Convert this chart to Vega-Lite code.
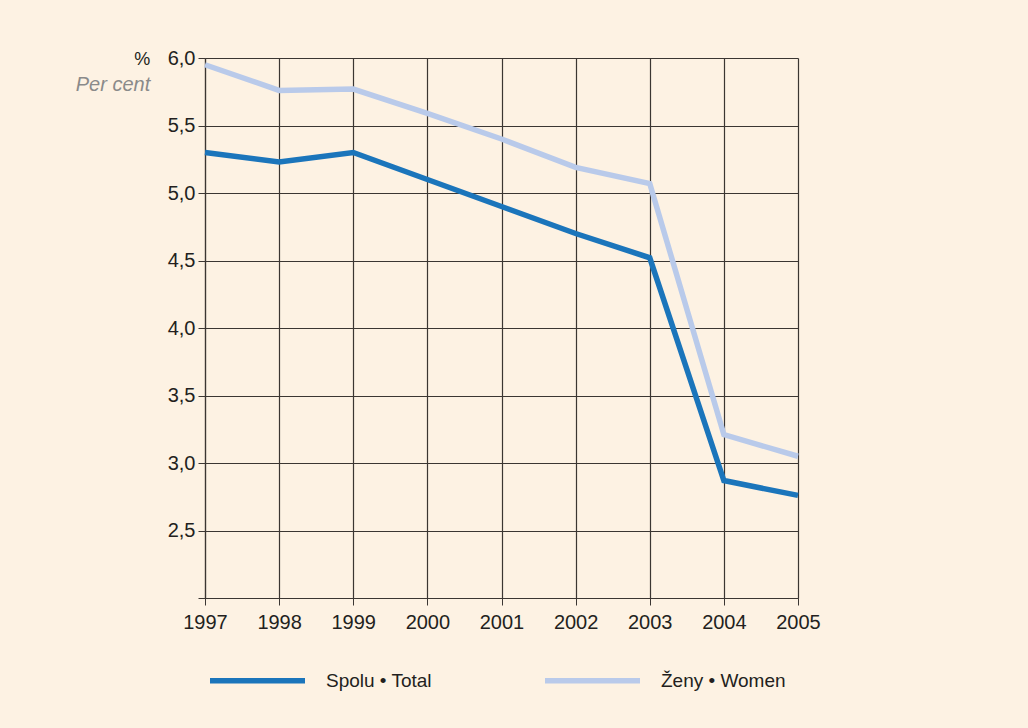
{
  "$schema": "https://vega.github.io/schema/vega-lite/v6.json",
  "autosize": "none",
  "width": 593,
  "height": 540,
  "padding": {"left": 205, "top": 58, "right": 230, "bottom": 130},
  "background": "#fdf2e3",
  "title": {
    "text": "%",
    "subtitle": "Per cent",
    "anchor": "start",
    "align": "right",
    "dx": -17,
    "offset": -47,
    "font": "Liberation Sans",
    "fontSize": 18,
    "fontWeight": "normal",
    "color": "#231f20",
    "subtitleFont": "Liberation Sans",
    "subtitleFontSize": 20,
    "subtitleFontStyle": "italic",
    "subtitleColor": "#8a8a8a",
    "subtitlePadding": 6
  },
  "data": {
    "values": [
      {"year": 1997, "series": "Spolu", "value": 5.30},
      {"year": 1998, "series": "Spolu", "value": 5.23},
      {"year": 1999, "series": "Spolu", "value": 5.30},
      {"year": 2000, "series": "Spolu", "value": 5.10},
      {"year": 2001, "series": "Spolu", "value": 4.90},
      {"year": 2002, "series": "Spolu", "value": 4.70},
      {"year": 2003, "series": "Spolu", "value": 4.52},
      {"year": 2004, "series": "Spolu", "value": 2.87},
      {"year": 2005, "series": "Spolu", "value": 2.76},
      {"year": 1997, "series": "Ženy", "value": 5.95},
      {"year": 1998, "series": "Ženy", "value": 5.76},
      {"year": 1999, "series": "Ženy", "value": 5.77},
      {"year": 2000, "series": "Ženy", "value": 5.59},
      {"year": 2001, "series": "Ženy", "value": 5.40},
      {"year": 2002, "series": "Ženy", "value": 5.19},
      {"year": 2003, "series": "Ženy", "value": 5.07},
      {"year": 2004, "series": "Ženy", "value": 3.21},
      {"year": 2005, "series": "Ženy", "value": 3.05}
    ]
  },
  "mark": {"type": "line", "strokeWidth": 5.5, "strokeCap": "butt", "strokeJoin": "miter", "clip": false},
  "encoding": {
    "x": {
      "field": "year",
      "type": "quantitative",
      "scale": {"domain": [1997, 2005], "nice": false, "zero": false},
      "axis": {
        "title": null,
        "values": [1997, 1998, 1999, 2000, 2001, 2002, 2003, 2004, 2005],
        "format": "d",
        "labelFlush": false,
        "labelBound": false,
        "labelOverlap": false,
        "grid": true,
        "gridColor": "#3b3632",
        "gridOpacity": 1,
        "gridWidth": 1.2,
        "domainColor": "#3b3632",
        "domainWidth": 1.2,
        "tickColor": "#3b3632",
        "tickSize": 7,
        "labelFont": "Liberation Sans",
        "labelFontSize": 20,
        "labelColor": "#231f20",
        "labelPadding": 7
      }
    },
    "y": {
      "field": "value",
      "type": "quantitative",
      "scale": {"domain": [2, 6], "nice": false, "zero": false},
      "axis": {
        "title": null,
        "values": [2, 2.5, 3, 3.5, 4, 4.5, 5, 5.5, 6],
        "labelExpr": "datum.value == 2 ? '' : replace(format(datum.value, '.1f'), '.', ',')",
        "labelOverlap": false,
        "labelFlush": false,
        "grid": true,
        "gridColor": "#3b3632",
        "gridOpacity": 1,
        "gridWidth": 1.2,
        "domainColor": "#3b3632",
        "domainWidth": 1.2,
        "tickColor": "#3b3632",
        "tickSize": 7,
        "labelFont": "Liberation Sans",
        "labelFontSize": 20,
        "labelColor": "#231f20",
        "labelPadding": 3
      }
    },
    "color": {
      "field": "series",
      "type": "nominal",
      "scale": {"domain": ["Spolu", "Ženy"], "range": ["#1b75bb", "#b9caea"]},
      "legend": {
        "title": null,
        "orient": "none",
        "legendX": 2,
        "legendY": 572,
        "direction": "horizontal",
        "columns": 2,
        "columnPadding": 102,
        "symbolType": "stroke",
        "symbolSize": 9025,
        "symbolStrokeWidth": 5.5,
        "labelOffset": 18,
        "labelFont": "Liberation Sans",
        "labelFontSize": 19,
        "labelColor": "#231f20",
        "labelLimit": 300,
        "labelExpr": "datum.label == 'Spolu' ? 'Spolu • Total' : 'Ženy • Women'"
      }
    }
  },
  "config": {"view": {"stroke": null}}
}
